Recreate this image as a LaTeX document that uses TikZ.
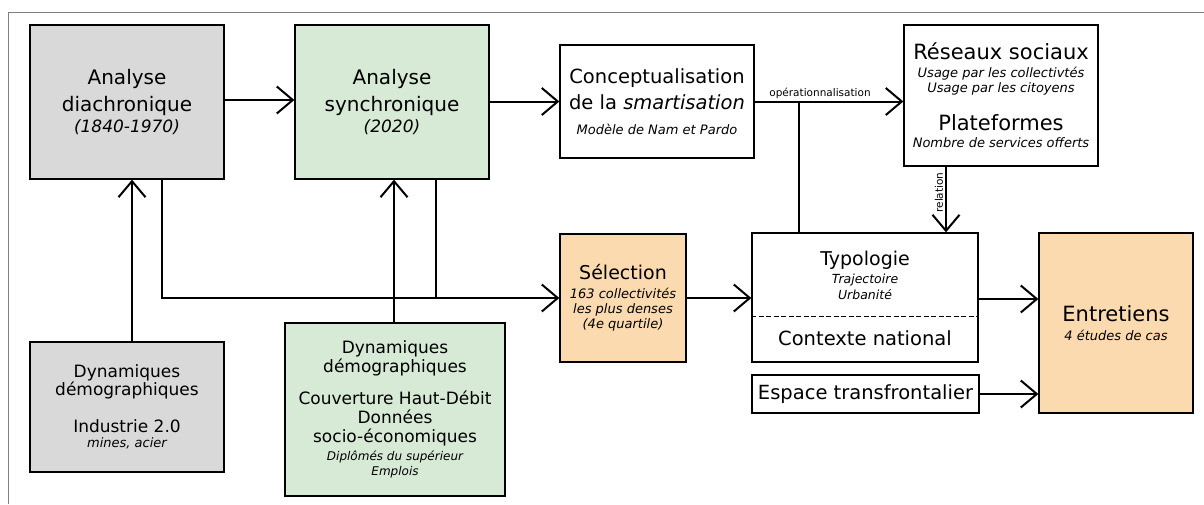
\documentclass[tikz,border=0pt]{standalone}
\usepackage{fontspec}
\setmainfont{DejaVu Sans}
\usetikzlibrary{arrows.meta,positioning}

\definecolor{diagray}{HTML}{D9D9D9}
\definecolor{syngreen}{HTML}{D7EAD5}
\definecolor{selorange}{HTML}{FBDAB0}
\lineskiplimit=-100pt

\newcommand{\detailtxt}[2][13]{{\fontsize{#1}{#1}\selectfont\itshape #2}}

\begin{document}
\begin{tikzpicture}[
    x=1pt, y=-1pt,
    box/.style={draw, line width=1.3pt, inner sep=0pt, align=center, fill=white},
    past/.style={box, fill=diagray},
    present/.style={box, fill=syngreen},
    casebox/.style={box, fill=selorange},
    flow/.style={line width=2pt, -{Straight Barb[length=16pt, width=27pt]}},
    link/.style={line width=2pt},
    tag/.style={font=\fontsize{10.5}{12}\selectfont, inner sep=2pt}
]
\useasboundingbox (0,0) rectangle (1204,504);
\draw[gray, line width=1pt] (8,504) -- (8,12) -- (1204,12);

% Analyses
\node[past, minimum width=194pt, minimum height=154pt, font=\fontsize{20}{27}\selectfont] (diach) at (127,102)
  {Analyse\\diachronique\\[-6pt]\detailtxt[17]{(1840-1970)}};
\node[present, minimum width=194pt, minimum height=154pt, font=\fontsize{20}{27}\selectfont] (synch) at (392,102)
  {Analyse\\synchronique\\[-6pt]\detailtxt[17]{(2020)}};
\node[box, minimum width=194pt, minimum height=113pt, font=\fontsize{19.5}{26}\selectfont] (concept) at (657,101.5)
  {Conceptualisation\\de la \textit{smartisation}\\[-1pt]\detailtxt{Modèle de Nam et Pardo}};
\node[box, minimum width=194pt, minimum height=141pt, font=\fontsize{21}{17}\selectfont] (reseaux) at (1001,95.5)
  {Réseaux sociaux\\[1pt]\detailtxt{Usage par les collectivtés}\\[-2pt]\detailtxt{Usage par les citoyens}\\[21pt]Plateformes\\ \detailtxt{Nombre de services offerts}};

% Sources
\node[past, minimum width=194pt, minimum height=130pt, font=\fontsize{17}{18}\selectfont] (dyn1) at (127,407)
  {Dynamiques\\démographiques\\[19pt]Industrie 2.0\\[-3pt]\detailtxt{mines, acier}};
\node[present, minimum width=220pt, minimum height=173pt, font=\fontsize{17}{19}\selectfont] (dyn2) at (395,409.5)
  {Dynamiques\\démographiques\\[13pt]Couverture Haut-Débit\\Données\\socio-économiques\\[-1pt]\detailtxt[12]{Diplômés du supérieur}\\[-4pt]\detailtxt[12]{Emplois}};

% Cas
\node[casebox, minimum width=126pt, minimum height=128pt, font=\fontsize{19}{15}\selectfont] (select) at (623,298)
  {Sélection\\[4pt]\detailtxt{163 collectivités}\\ \detailtxt{les plus denses}\\ \detailtxt{(4e quartile)}};
\node[box, minimum width=226pt, minimum height=129pt] (typo) at (865,297.5) {};
\node[font=\fontsize{19}{16}\selectfont, align=center, inner sep=0pt] (typotxt) at (865,275)
  {Typologie\\[2pt]\detailtxt[12.5]{Trajectoire}\\ \detailtxt[12.5]{Urbanité}};
\node[font=\fontsize{19.5}{20}\selectfont, inner sep=0pt] (national) at (865,338) {Contexte national};
\draw[line width=1.3pt, dash pattern=on 5pt off 2.5pt] ([yshift=-84pt]typo.north west) -- ([yshift=-84pt]typo.north east);
\node[box, minimum width=227pt, minimum height=38pt, font=\fontsize{19.5}{20}\selectfont] (espace) at (865.5,394)
  {Espace transfrontalier};
\node[casebox, minimum width=154pt, minimum height=180pt, font=\fontsize{21}{17}\selectfont] (entret) at (1116,323)
  {Entretiens\\[2pt]\detailtxt{4 études de cas}};

% Main chain
\draw[flow] ([yshift=2pt]diach.east) -- ([yshift=2pt]synch.west);
\draw[flow] (synch.east |- concept.west) -- (concept.west);
\draw[flow] (concept.east) -- (concept.east -| reseaux.west)
  node[tag, midway, above, xshift=-9pt] {opérationnalisation};
\draw[link] ([xshift=44pt]concept.east) -- ([xshift=44pt]concept.east |- typo.north);
\draw[flow] ([xshift=-55pt]reseaux.south) -- ([xshift=-55pt]reseaux.south |- typo.north)
  node[tag, midway, rotate=90, above, xshift=7pt] {relation};

% Sources to analyses
\draw[flow] ([xshift=5pt]dyn1.north) -- ([xshift=5pt]diach.south);
\draw[flow] ([xshift=2pt]synch.south |- dyn2.north) -- ([xshift=2pt]synch.south);
\draw[flow] ([xshift=35pt]diach.south) |- (select.west);
\draw[link] ([xshift=44pt]synch.south) -- ([xshift=44pt]synch.south |- select.west);

% Towards interviews
\draw[flow] ([yshift=-1.5pt]typo.east) -- ([yshift=-1.5pt]typo.east -| entret.west);
\draw[flow] (select.east) -- (select.east -| typo.west);
\draw[flow] (espace.east) -- (espace.east -| entret.west);

\end{tikzpicture}
\end{document}
